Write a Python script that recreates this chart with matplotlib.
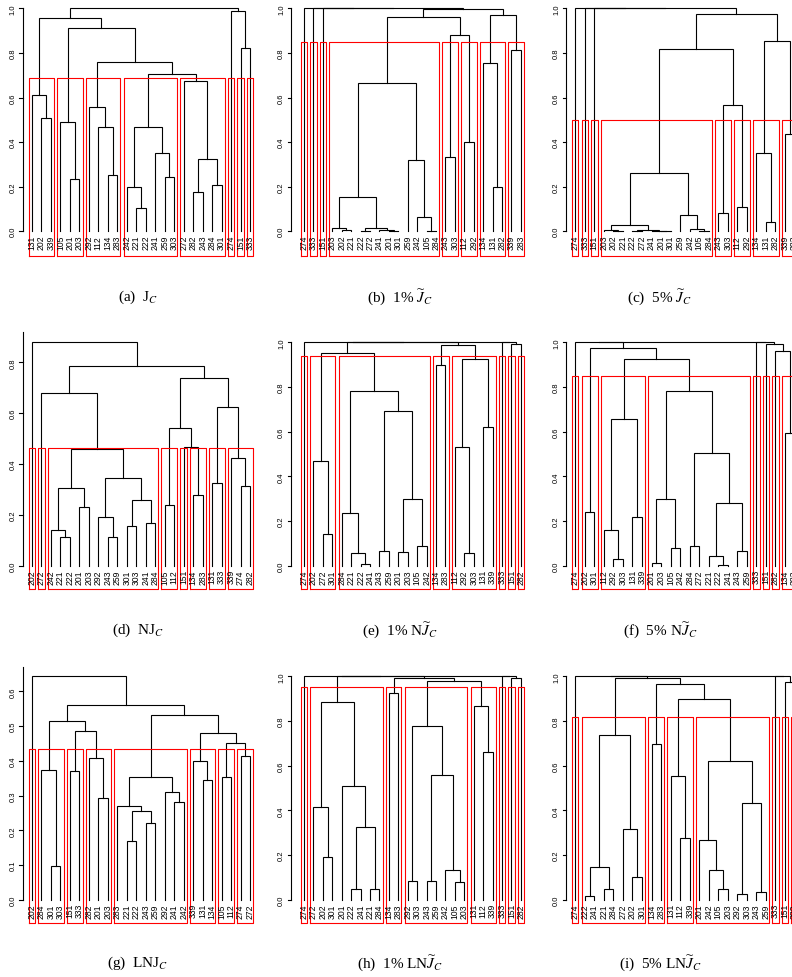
import matplotlib
matplotlib.use("Agg")
import matplotlib.pyplot as plt

plt.rcParams["font.family"] = "Liberation Sans"
plt.rcParams["mathtext.fontset"] = "stix"

# each merge is (height, left, right); leaves are the site labels
tree_a = (1.0,
          (0.958, (0.613, '131', (0.507, '202', '339')),
           (0.910, (0.490, '105', (0.233, '201', '203')),
            (0.761, (0.559, '292', (0.469, '112', (0.251, '134', '283'))),
             (0.704, (0.469, (0.200, '242', (0.106, '221', '222')),
                      (0.350, '241', (0.242, '259', '303'))),
              (0.674, '272', (0.323, (0.178, '282', '243'), (0.208, '284', '301'))))))),
          (0.988, '274', (0.824, '151', '333')))

tree_b = (1.0, '274', (1.0, '333', (1.0, '151',
          (0.995,
           (0.961,
            (0.664,
             (0.152, (0.016, '203', (0.004, '202', '221')),
              (0.016, (0.001, '222', '272'), (0.004, '241', (0.001, '201', '301')))),
             (0.318, '259', (0.063, '242', (0.002, '105', '284')))),
            (0.880, (0.332, '243', '303'), (0.402, '112', '292'))),
           (0.972, (0.753, '134', (0.200, '131', '282')), (0.815, '339', '283'))))))

tree_c = (1.0, '274', (1.0, '333', (1.0, '151',
          (0.975,
           (0.818,
            (0.262,
             (0.030, (0.004, '203', (0.001, '202', '221')),
              (0.004, (0.001, '222', '272'), (0.002, '241', (0.001, '201', '301')))),
             (0.075, '259', (0.012, '242', (0.002, '105', '284')))),
            (0.565, (0.081, '243', '303'), (0.108, '112', '292'))),
           (0.852, (0.351, '134', (0.043, '131', '282')), (0.438, '339', '283'))))))

tree_d = (0.879, '202',
          (0.784,
           (0.679, '272',
            (0.459,
             (0.304, (0.142, '242', (0.111, '221', '222')), (0.230, '201', '203')),
             (0.345, (0.193, '292', (0.111, '243', '259')),
              (0.260, (0.157, '301', '303'), (0.167, '241', '284'))))),
           (0.737,
            (0.543, (0.240, '105', '112'), (0.466, '151', (0.278, '134', '283'))),
            (0.623, (0.324, '131', '333'), (0.422, '339', (0.315, '274', '282'))))))

tree_e = (1.0,
          (1.0, '274',
           (1.0,
            (0.954, (0.467, '202', (0.142, '272', '301')),
             (0.782, (0.237, '284', (0.055, '221', (0.007, '222', '241'))),
              (0.693, (0.067, '243', '259'),
               (0.297, (0.060, '201', '203'), (0.090, '105', '242'))))),
            (0.988, (0.899, '134', '283'),
             (0.924, (0.533, '112', (0.055, '292', '303')), (0.619, '131', '339'))))),
          (1.0, '333', (0.993, '151', '282')))

tree_f = (1.0,
          (1.0, '274',
           (0.976, (0.239, '202', '301'),
            (0.925,
             (0.657, (0.161, '112', (0.031, '292', '303')), (0.219, '131', '339')),
             (0.781,
              (0.297, (0.010, '201', '203'), (0.081, '105', '242')),
              (0.506, (0.087, '284', '272'),
               (0.281, (0.045, '221', (0.004, '222', '241')), (0.064, '243', '259'))))))),
          (1.0, '333', (0.993, '151', (0.961, '282', (0.593, '134', '283')))))

tree_g = (0.645, '202',
          (0.560,
           (0.516, (0.374, '284', (0.098, '301', '303')),
            (0.487, (0.372, '151', '333'), (0.409, '282', (0.294, '201', '203')))),
           (0.533,
            (0.354,
             (0.271, '283', (0.256, (0.169, '221', '222'), (0.220, '243', '259'))),
             (0.311, '292', (0.280, '241', '242'))),
            (0.479, (0.400, '339', (0.346, '131', '134')),
             (0.452, (0.352, '105', '112'), (0.413, '274', '272'))))))

tree_h = (1.0,
          (1.0, '274',
           (1.0,
            (0.887, (0.416, '272', (0.193, '202', '301')),
             (0.510, '201', (0.327, (0.046, '222', '241'), (0.049, '221', '284')))),
            (0.993, (0.924, '134', '283'),
             (0.978,
              (0.778, (0.084, '292', '303'),
               (0.560, (0.082, '243', '259'), (0.134, '242', (0.079, '105', '203')))),
              (0.867, '131', (0.660, '112', '339')))))),
          (1.0, '333', (0.993, '151', '282')))

tree_i = (1.0,
          (1.0, '274',
           (0.993,
            (0.737, (0.148, (0.016, '222', '241'), (0.049, '221', '284')),
             (0.318, '272', (0.103, '202', '301'))),
            (0.967, (0.697, '134', '283'),
             (0.897, (0.552, '131', (0.278, '112', '339')),
              (0.622, (0.266, '201', (0.131, '242', (0.046, '105', '203'))),
               (0.431, (0.027, '292', '303'), (0.036, '243', '259'))))))),
          (1.0, '333', (0.975, '151', '282')))

trees = [tree_a, tree_b, tree_c, tree_d, tree_e, tree_f, tree_g, tree_h, tree_i]
cut_heights = [0.689, 0.848, 0.501, 0.463, 0.940, 0.851, 0.434, 0.951, 0.816]
axis_tops = [1.0, 1.0, 1.0, 0.918, 1.0, 1.0, 0.669, 1.0, 1.0]
tick_values = [[0.0, 0.2, 0.4, 0.6, 0.8, 1.0]] * 3 + \
              [[0.0, 0.2, 0.4, 0.6, 0.8], [0.0, 0.2, 0.4, 0.6, 0.8, 1.0], [0.0, 0.2, 0.4, 0.6, 0.8, 1.0],
               [0.0, 0.1, 0.2, 0.3, 0.4, 0.5, 0.6], [0.0, 0.2, 0.4, 0.6, 0.8, 1.0], [0.0, 0.2, 0.4, 0.6, 0.8, 1.0]]
captions = [r"(a)  J$_C$", r"(b)  1% $\widetilde{J}_C$", r"(c)  5% $\widetilde{J}_C$",
            r"(d)  NJ$_C$", r"(e)  1% N$\widetilde{J}_C$", r"(f)  5% N$\widetilde{J}_C$",
            r"(g)  LNJ$_C$", r"(h)  1% LN$\widetilde{J}_C$", r"(i)  5% LN$\widetilde{J}_C$"]

# layout in pixels of the 792x978 page
W, H = 792.0, 978.0
cols = [dict(L=0, R=265, spine=22.7, first=32.0, sp=9.48, cap=138),
        dict(L=265, R=530, spine=291.0, first=304.0, sp=9.43, cap=400),
        dict(L=530, R=800, spine=566.0, first=575.3, sp=9.53, cap=660)]
rows = [dict(T=0, B=265, y0=232.3, bot=256.7, cap=297),
        dict(T=330, B=595, y0=566.7, bot=590.0, cap=630),
        dict(T=665, B=930, y0=900.7, bot=924.0, cap=963)]
units = [223.0, 223.0, 223.0, 254.2, 223.3, 223.3, 347.2, 223.3, 223.3]


def draw_tree(ax, node, order):
    if isinstance(node, str):
        order.append(node)
        return len(order) - 1, 0.0
    h, a, b = node
    xa, ha = draw_tree(ax, a, order)
    xb, hb = draw_tree(ax, b, order)
    ax.plot([xa, xa, xb, xb], [ha, h, h, hb], color="black", lw=0.8,
            solid_joinstyle="miter")
    return (xa + xb) / 2.0, h


def leaves_of(node):
    if isinstance(node, str):
        return [node]
    return leaves_of(node[1]) + leaves_of(node[2])


def cut_tree(node, thr, out):
    if isinstance(node, str) or node[0] <= thr:
        out.append(leaves_of(node))
    else:
        cut_tree(node[1], thr, out)
        cut_tree(node[2], thr, out)


fig = plt.figure(figsize=(W / 100, H / 100), dpi=100)

for k, tree in enumerate(trees):
    c = cols[k % 3]
    r = rows[k // 3]
    unit = units[k]
    ax = fig.add_axes([c["L"] / W, 1 - r["B"] / H, (c["R"] - c["L"]) / W, (r["B"] - r["T"]) / H])
    ax.set_xlim((c["L"] - c["first"]) / c["sp"], (c["R"] - c["first"]) / c["sp"])
    ax.set_ylim((r["y0"] - r["B"]) / unit, (r["y0"] - r["T"]) / unit)
    ax.axis("off")

    order = []
    draw_tree(ax, tree, order)

    # leaf labels
    for i, lab in enumerate(order):
        ax.text(i, -3.5 / unit, lab, rotation=90, ha="center", va="top", fontsize=6.2)

    # y axis
    sx = (c["spine"] - c["first"]) / c["sp"]
    ax.plot([sx, sx], [0, axis_tops[k]], color="black", lw=0.8)
    for t in tick_values[k]:
        ax.plot([sx - 3.5 / c["sp"], sx], [t, t], color="black", lw=0.8)
        ax.text(sx - 9.5 / c["sp"], t, "%.1f" % t, rotation=90, ha="center", va="center",
                fontsize=5.5)

    # red cluster boxes
    groups = []
    cut_tree(tree, cut_heights[k], groups)
    ybot = (r["y0"] - r["bot"]) / unit
    for g in groups:
        i0 = order.index(g[0])
        i1 = order.index(g[-1])
        ax.plot([i0 - 0.34, i1 + 0.33, i1 + 0.33, i0 - 0.34, i0 - 0.34],
                [ybot, ybot, cut_heights[k], cut_heights[k], ybot], color="red", lw=0.8)

    fig.text(c["cap"] / W, 1 - r["cap"] / H, captions[k], ha="center", va="center",
             fontsize=11, family="Liberation Serif")

fig.savefig("out.png", dpi=100)
